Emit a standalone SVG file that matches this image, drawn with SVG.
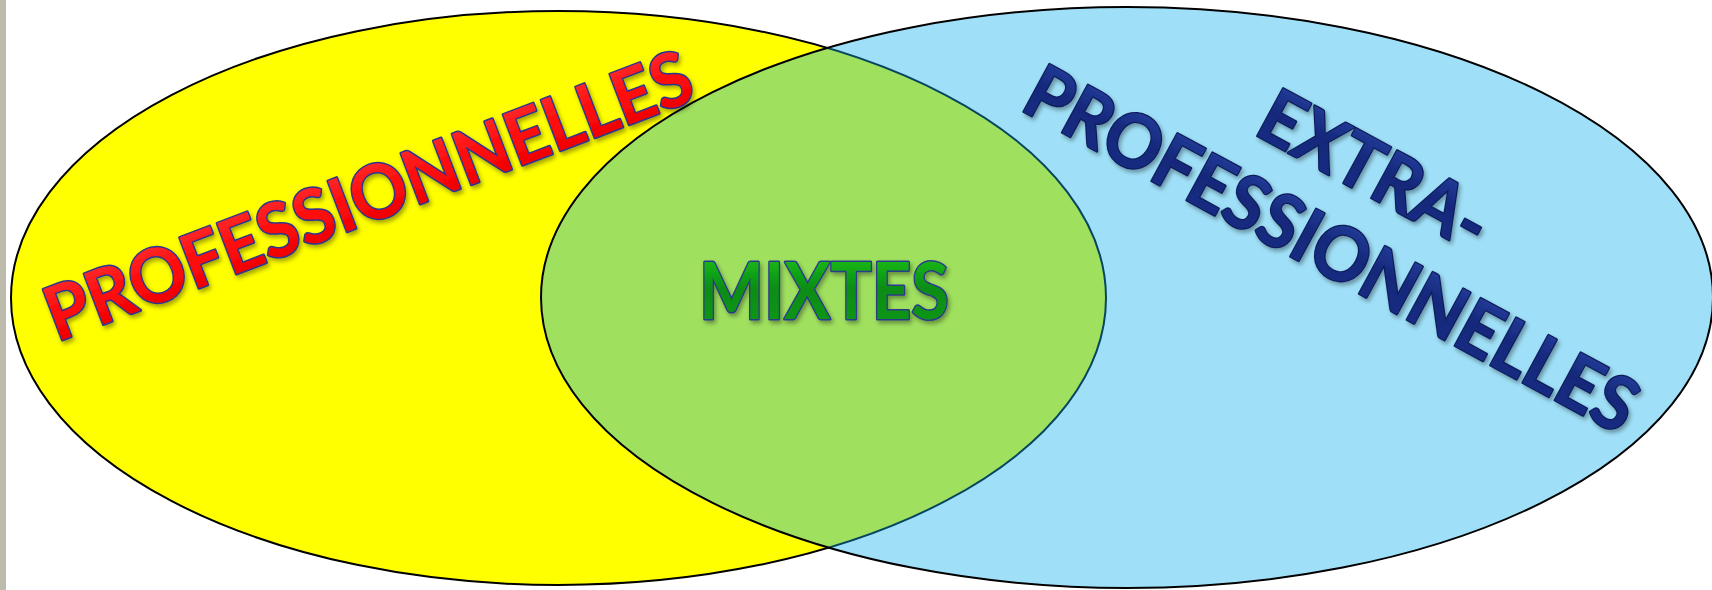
<svg xmlns="http://www.w3.org/2000/svg" width="1712" height="590" viewBox="0 0 1712 590">
  <defs>
    <style>
      .ring { stroke: #000; stroke-width: 2; }
      .lbl { font-family: Lato, "Open Sans", "Liberation Sans", sans-serif; font-weight: 700; paint-order: stroke; stroke-linejoin: round; }
      .red { font-size: 75px; fill: url(#gRed); stroke: #2c3590; stroke-width: 3; }
      .navy { font-size: 75px; fill: url(#gNavy); stroke: #0c1c5a; stroke-width: 2.5; text-anchor: middle; }
      .green { font-size: 78px; fill: url(#gGreen); stroke: #2b3a8c; stroke-width: 3; text-anchor: middle; }
    </style>
    <linearGradient id="gRed" x1="0" y1="0" x2="0" y2="1">
      <stop offset="0" stop-color="#ff3b3b"/>
      <stop offset="0.5" stop-color="#ff0a0a"/>
      <stop offset="1" stop-color="#e80000"/>
    </linearGradient>
    <linearGradient id="gNavy" x1="0" y1="0" x2="0" y2="1">
      <stop offset="0" stop-color="#2a45a8"/>
      <stop offset="0.5" stop-color="#15287a"/>
      <stop offset="1" stop-color="#1a2f86"/>
    </linearGradient>
    <linearGradient id="gGreen" x1="0" y1="0" x2="0" y2="1">
      <stop offset="0" stop-color="#1fd21f"/>
      <stop offset="0.5" stop-color="#0a8c12"/>
      <stop offset="1" stop-color="#0e9a16"/>
    </linearGradient>
    <filter id="sh" x="-10%" y="-20%" width="130%" height="150%">
      <feDropShadow dx="2" dy="3" stdDeviation="2" flood-color="#000" flood-opacity="0.35"/>
    </filter>
  </defs>

  <rect x="0" y="0" width="1712" height="590" fill="#ffffff"/>
  <rect x="0" y="0" width="6" height="590" fill="#bdbbab"/>

  <g id="professionnelles">
    <ellipse class="ring" cx="558.5" cy="298" rx="547.5" ry="287" fill="#ffff00"/>
  </g>

  <g id="extra-professionnelles">
    <ellipse class="ring" cx="1127" cy="297.5" rx="586" ry="290.5" fill="rgb(15,178,237)" fill-opacity="0.4"/>
  </g>

  <g id="connectors"></g>

  <g id="label-professionnelles" filter="url(#sh)">
    <text class="lbl red" transform="translate(57,342) rotate(-20.8)" x="0" y="0" textLength="686" lengthAdjust="spacingAndGlyphs">PROFESSIONNELLES</text>
  </g>

  <g id="label-extra" filter="url(#sh)">
    <g transform="translate(1362,193) rotate(28.5)">
      <text class="lbl navy" x="0" y="0" textLength="250" lengthAdjust="spacingAndGlyphs">EXTRA-</text>
      <text class="lbl navy" x="0" y="90" textLength="684" lengthAdjust="spacingAndGlyphs">PROFESSIONNELLES</text>
    </g>
  </g>

  <g id="mixtes" filter="url(#sh)">
    <text class="lbl green" x="824" y="319" textLength="250" lengthAdjust="spacingAndGlyphs">MIXTES</text>
  </g>
</svg>
